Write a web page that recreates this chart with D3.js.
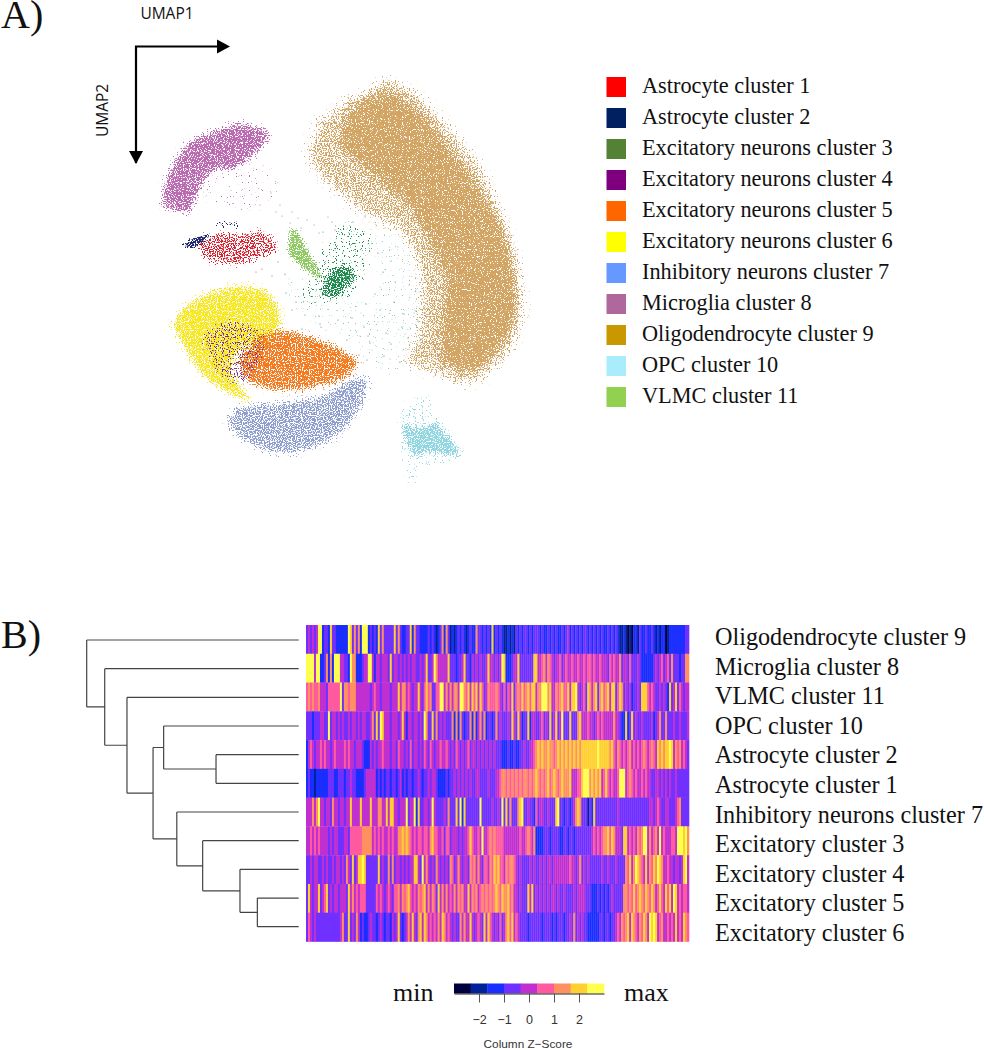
<!DOCTYPE html>
<html>

<head>
  <meta charset="UTF-8">
  <style>
    body { margin: 0; background: #fff; }
    svg { display: block; }
    text { fill: #111; }
    .serif { font-family: "Liberation Serif", serif; }
    .sans { font-family: "Open Sans", sans-serif; }
    .key { font-family: "Liberation Sans", sans-serif; fill: #333; }
  </style>
</head>

<body>
  <svg></svg>
  <script src="https://d3js.org/d3.v7.min.js"></script>

  <script>
    // legend of panel A
    const legend_labels = ["Astrocyte cluster 1", "Astrocyte cluster 2", "Excitatory neurons cluster 3",
      "Excitatory neurons cluster 4", "Excitatory neurons cluster 5", "Excitatory neurons cluster 6",
      "Inhibitory neurons cluster 7", "Microglia cluster 8", "Oligodendrocyte cluster 9",
      "OPC cluster 10", "VLMC cluster 11"];
    const legend_colors = ["#FF0000", "#002060", "#548235", "#7F007F", "#FF6600", "#FFFF00",
      "#6699FF", "#B0689C", "#C99700", "#A9EDFC", "#92D050"];

    // UMAP regions, outlines (umap1, umap2)
    const center_field = [[15.5, 20], [17, 24.5], [21, 26], [23, 29], [26, 30.5], [29, 29], [30, 25], [28.5, 20], [26, 16], [24, 14.5], [25, 19], [23.5, 23]];
    const oligo_all = [[26, 0.8], [29, 2.5], [32, 5.8], [35, 9.5], [37.3, 14.5], [38.7, 19], [39.4, 23.3], [38.5, 27.3], [36.2, 30.2], [33.7, 31.4], [30.5, 30.4], [27.5, 29.2], [28.8, 26], [28.9, 20], [27, 16.2], [23.2, 14.2], [19.8, 11.5], [17.7, 8.7], [19, 5], [22, 2.8], [24, 2]];
    const oligo_core = [[26, 2], [29, 4], [34, 10], [37, 15], [38.4, 19], [38.8, 23.3], [38, 27], [35.5, 29.6], [33.5, 30.4], [31, 29], [31, 25], [31.5, 21], [29.5, 16.5], [27, 13], [24, 10.5], [21, 7.5], [22, 3.5]];
    const micro_core = [[3.3, 13.7], [3.3, 12], [4.3, 9.3], [5.7, 7.3], [7.7, 6.3], [11, 5.3], [13.7, 6], [14, 6.7], [12.3, 8.7], [10.3, 10], [8.5, 10], [7.5, 11], [6.8, 12.5], [6, 14.3], [5.3, 14.3]];
    const micro_tail = [[8.5, 9.5], [12, 8.5], [14, 10], [15, 12.5], [13, 14], [10, 14], [7, 13], [7, 11]];
    const astro1_core = [[6.8, 17.3], [8.7, 16.3], [11, 16.3], [13, 16], [14.3, 16.7], [14.7, 18], [13.3, 18.7], [11, 19.5], [9, 19.3], [7.5, 19]];
    const astro2_core = [[5.3, 17.5], [6.3, 16.8], [8, 16.3], [7.8, 16.8], [6.7, 17.7], [5.5, 17.8]];
    const astro2_top = [[8.4, 15.3], [9.5, 15.1], [10.7, 15.2], [11, 15.8], [9.5, 15.7], [8.5, 15.6]];
    const vlmc_core = [[16, 16], [16.7, 16], [18, 18.3], [19.3, 20.7], [18.7, 20.8], [17, 19.7], [15.8, 18.3]];
    const exc3_wide = [[19.3, 18], [21.3, 15], [24.3, 17], [23.3, 20.7], [22, 22.7], [18.7, 23.7], [17, 22.3], [18.7, 20]];
    const exc3_core = [[20, 20], [22, 19.5], [22.5, 21], [20.7, 22.7], [19, 22.3]];
    const exc6_core = [[4.3, 25.7], [5.3, 23.7], [7.7, 22.3], [11, 21.5], [13.7, 22], [15, 24], [15, 26], [13, 27.5], [11, 28], [10, 30], [11.5, 32], [12, 33.3], [9.7, 32.3], [7.3, 30.7], [5.7, 28.3]];
    const exc5_core = [[10.8, 29], [12.8, 26.5], [15.7, 26], [19.7, 27.2], [22.8, 29], [21.5, 30.9], [17.3, 32], [14, 32], [11.5, 31]];
    const exc4_core = [[7.3, 26.5], [10, 25], [13.3, 26.3], [13, 29], [12, 31], [9.7, 31], [8, 29]];
    const exc6_over = [[7, 25], [10, 24], [13, 25], [13, 28], [9, 30.5]];
    const inhib_core = [[9.7, 35], [10.7, 33.7], [14, 33.3], [18.7, 32.7], [22, 31], [24, 30.7], [23, 34], [20.7, 36.7], [17.3, 38.2], [14, 38.3], [11.3, 37], [9.8, 35.7]];
    const opc_core = [[27.2, 35.3], [29, 35.8], [30.7, 35.3], [33, 38], [32.7, 38.7], [30, 38.3], [28.5, 38.7], [27.7, 37.5]];
    const opc_wide = [[27, 33.5], [30, 32.5], [31, 35], [33.2, 38.5], [29, 40], [28.7, 41.7], [27.8, 41], [27.2, 38]];

    const region_outlines = [center_field, center_field, oligo_all, oligo_core, micro_core, micro_tail, astro1_core, astro2_core, astro2_top, vlmc_core, exc3_wide, exc3_core, inhib_core, exc6_core, exc5_core, exc4_core, exc6_over, opc_wide, opc_core];
    const region_density = [0.09, 0.07, 0.74, 1, 1, 0.16, 0.74, 1, 0.5, 1, 0.32, 0.9, 0.85, 1, 1, 0.5, 0.22, 0.3, 0.95];
    const region_colors = ["#8FD6E1", "#2E8F66", "#D2A564", "#D2A564", "#BB6AB1", "#BB6AB1", "#D8202E", "#1F2A6E", "#1F2A6E", "#8FC964", "#1E8A4C", "#1E8A4C", "#8E9ECF", "#F8E820", "#F47B20", "#7A2A90", "#F8E820", "#8FD6E1", "#8FD6E1"];

    // stray cells between the clusters
    const stray_green = [[17.5, 24.5], [16.2, 24], [18.9, 24.6], [15.6, 22.3], [16.6, 23.2], [24.8, 18.3], [25.3, 20.2], [26.1, 19.1], [24.5, 22.4], [23.6, 23.4], [25, 24], [26.4, 23.2], [27.4, 24.4], [28.6, 24.1], [27.2, 25.7], [28.8, 25.1], [25.6, 26.3], [23.4, 25.7], [22.2, 24.8], [20.8, 25], [19, 25.4], [17.2, 25.9], [21.7, 27], [24, 27.3], [26.1, 27.4], [27.8, 26.8], [29.1, 26.9], [27, 29.2], [25.4, 28.6], [23.7, 29], [22.3, 15.2], [23.5, 14.6], [20.2, 15.2], [19.3, 16.2]];
    const stray_cyan = [[16, 21.5], [18, 26.8], [19.8, 27], [21, 26.3], [23, 26.6], [24.8, 25.2], [26.2, 24.9], [27.9, 23], [28.9, 22.2], [29.5, 24.3], [25, 21.7], [26.5, 21.2], [24.2, 28], [25.1, 29.8], [27.3, 28], [23.1, 24.3], [21.5, 28.6], [22.6, 29.8], [19.6, 26], [28.3, 27.8]];
    const stray_lilac = [[14.6, 14.2], [15.2, 14.6], [16.2, 14.2], [16.8, 14.8], [17.7, 15], [18.4, 15.5], [15, 13.5], [17.1, 15.8], [14.1, 12.3], [18.9, 16.3], [13, 13.5], [16, 15.3], [19.8, 14.7], [20.5, 16]];
    const stray_red = [[13.2, 19.9], [14.8, 19.2], [12.6, 20.2], [14.2, 20.6], [19.1, 25.7], [23.8, 26.6], [22.9, 28.5], [15.5, 20.4]];
    const stray_tan = [[27.5, 26.4], [28.4, 24.3], [29.2, 22.9], [27.4, 29], [26, 28.9], [25.8, 26.4], [27.9, 21.5], [26.8, 17.7], [25.5, 15.8], [23.8, 14]];

    // heatmap, panel B. Each digit is a colour key bin, 0 (lowest) to 8 (highest)
    const heat_rows = ["Oligodendrocyte cluster 9", "Microglia cluster 8", "VLMC cluster 11", "OPC cluster 10",
      "Astrocyte cluster 2", "Astrocyte cluster 1", "Inhibitory neurons cluster 7", "Excitatory cluster 3",
      "Excitatory cluster 4", "Excitatory cluster 5", "Excitatory cluster 6"];
    const heat_oligo = "3434348823 3273322222 2873636288 8232327363 3333736322 3372633222 2323212362 6312123232 1232263323 2327232321 1212132323 3232333232 2323232232 3423232323 3232323232 2323232112 1010221322 3223212122 0122222222 33";
    const heat_micro = "8888488223 6262888443 3286622234 4884244344 4373443434 3434433434 7334864444 4733323347 3324343433 4744343487 2223447333 3333774456 4654344534 5445445445 4554544544 4354544634 4353334322 2222343453 4536333233 66";
    const heat_vlmc = "5656556444 3555555836 6566644444 4434544344 4434447466 4543447435 7563355884 6464664886 5747574753 4655565435 3547356575 6757746688 8674465675 5747784345 3764673675 6747735763 4342334377 7545433434 3273473543 44";
    const heat_opc = "3332333443 3834434343 3434434344 3346373874 4434443474 2443443438 6337363434 3336262632 3362624636 2332363433 3437437423 3724433453 4373473483 3373336744 4544345454 4444644322 7237343343 3334234633 6333433433 34";
    const heat_astro2 = "2454344545 4434544445 4544344432 2243434454 4434435443 4353443435 4354344544 5434354343 4534434343 4343433322 2322322334 3344567676 6766567676 7676767677 7777778777 7767546545 4564545456 5456547676 7787465645 43";
    const heat_astro1 = "2322122222 2333223332 3343322223 4444423232 3323323423 2332334323 3434432222 3233434343 4343344333 3433344566 5656565656 6565676565 6756765676 6674445578 8867676745 7545445888 4565454454 5443344343 4343343333 33";
    const heat_inhib = "4446468443 4436443443 4474444744 4474446644 7477443444 8344827334 4348433334 3633373827 3333333833 3334334383 7363336783 3433253443 3433378332 3323467633 3132733333 3333334333 3333333333 3344345433 4433345633 33";
    const heat_exc3 = "4454545444 4343443334 4355555566 6664545454 4545446676 7654545545 5467554453 5534443434 4575445484 4565655554 4444444544 5654622223 3323333223 3233233333 3334545456 6757644437 7454546568 8464564845 4445548887 86";
    const heat_exc4 = "3343443343 4334344343 6437347787 3333337343 3636344343 4344774384 6434364343 4365346434 4365646435 5465767554 6566543433 3343433434 3443444444 4454434634 3433333343 3433343333 6574687654 7465768764 4544344347 84";
    const heat_exc5 = "3743447345 7343443444 3746454555 3333354543 4543556465 6754546567 4646537464 6454646564 4746564565 6565676576 6756443433 3747343434 3434434334 3333434444 3332223232 3234333336 6565756765 7657645754 7574874545 54";
    const heat_exc6 = "3543433333 3333333463 3734364232 2343323432 3324347323 4647436747 6454546476 4543433646 4474345437 4754343534 6757454333 3233333323 3332323332 3343634343 3222222332 3323345465 6747654657 6487874564 4545474547 65";
    const heat_values = [heat_oligo, heat_micro, heat_vlmc, heat_opc, heat_astro2, heat_astro1, heat_inhib, heat_exc3, heat_exc4, heat_exc5, heat_exc6];

    // colour key
    const key_colors = ["#00003C", "#002299", "#1A2EFF", "#7030FF", "#C030D0", "#FF5AA0", "#FF9060", "#FFD030", "#FFFF50"];
    const key_ticks = [-2, -1, 0, 1, 2];

    // dendrogram, merge heights in distance units
    const dendro_tree = { h: 10, children: [{ leaf: 0 }, { h: 9.15, children: [{ leaf: 1 }, { h: 8.1, children: [{ leaf: 2 }, { h: 6.87, children: [
      { h: 6.37, children: [{ leaf: 3 }, { h: 3.9, children: [{ leaf: 4 }, { leaf: 5 }] }] },
      { h: 5.75, children: [{ leaf: 6 }, { h: 4.53, children: [{ leaf: 7 }, { h: 2.77, children: [{ leaf: 8 }, { h: 1.95, children: [{ leaf: 9 }, { leaf: 10 }] }] }] }] }
    ] }] }] }] };

    let width = 984, height = 1050;
    let svg = d3.select("svg").attr("width", width).attr("height", height)
      .attr("viewBox", "0 0 " + width + " " + height);
    let defs = svg.append("defs");

    svg.append("text").attr("class", "serif").attr("x", 1).attr("y", 28).attr("font-size", 40).text("A)");
    svg.append("text").attr("class", "serif").attr("x", 1).attr("y", 648).attr("font-size", 40).text("B)");

    // ---- panel A ----
    let umap_x = d3.scaleLinear().domain([0, 40]).range([130, 530]);
    let umap_y = d3.scaleLinear().domain([0, 43]).range([70, 500]);

    // grainy fill so a region reads as a cloud of cells; fill-opacity sets how dense the grain is
    function grain_filter(id, seed, soft_edge) {
      let f = defs.append("filter").attr("id", id)
        .attr("x", "-25%").attr("y", "-25%").attr("width", "150%").attr("height", "150%")
        .attr("color-interpolation-filters", "sRGB");
      f.append("feGaussianBlur").attr("in", "SourceGraphic").attr("stdDeviation", soft_edge).attr("result", "soft");
      f.append("feTurbulence").attr("type", "fractalNoise").attr("baseFrequency", 0.85)
        .attr("numOctaves", 1).attr("seed", seed).attr("result", "noise");
      f.append("feColorMatrix").attr("in", "noise").attr("type", "matrix")
        .attr("values", "0 0 0 0 0  0 0 0 0 0  0 0 0 0 0  3 0 0 0 -1.2").attr("result", "grain");
      f.append("feColorMatrix").attr("in", "soft").attr("type", "matrix")
        .attr("values", "0 0 0 0 0  0 0 0 0 0  0 0 0 0 0  0 0 0 1 0").attr("result", "shape");
      f.append("feComposite").attr("in", "shape").attr("in2", "grain").attr("operator", "arithmetic")
        .attr("k1", 0).attr("k2", 1).attr("k3", 1).attr("k4", -1).attr("result", "sum");
      let steep = f.append("feComponentTransfer").attr("in", "sum").attr("result", "mask");
      steep.append("feFuncA").attr("type", "linear").attr("slope", 7).attr("intercept", 0);
      let solid = f.append("feComponentTransfer").attr("in", "soft").attr("result", "solid");
      solid.append("feFuncA").attr("type", "linear").attr("slope", 60).attr("intercept", 0);
      f.append("feComposite").attr("in", "solid").attr("in2", "mask").attr("operator", "in").attr("result", "out");
      f.append("feGaussianBlur").attr("in", "out").attr("stdDeviation", 0.42);
    }

    let outline = d3.line().x(d => umap_x(d[0])).y(d => umap_y(d[1]))
      .curve(d3.curveCardinalClosed.tension(0.4));

    region_outlines.forEach((pts, i) => {
      // bigger clouds have wider fuzzy edges
      let soft_edge = Math.min(5.5, 1.5 + 0.25 * Math.sqrt(Math.abs(d3.polygonArea(pts))));
      grain_filter("grain" + i, i + 2, soft_edge);
      svg.append("path").attr("d", outline(pts))
        .attr("fill", region_colors[i])
        .attr("fill-opacity", region_density[i])
        .attr("filter", "url(#grain" + i + ")");
    });

    [[stray_tan, "#D2A564"], [stray_cyan, "#8FD6E1"], [stray_green, "#2E8F66"], [stray_lilac, "#BB6AB1"], [stray_red, "#B5503F"]]
      .forEach(([pts, c]) => {
        svg.append("g").selectAll("circle").data(pts).enter().append("circle")
          .attr("cx", d => umap_x(d[0])).attr("cy", d => umap_y(d[1]))
          .attr("r", 0.6).attr("fill", c);
      });

    // arrows
    svg.append("path").attr("d", "M136 163V46.5H218").attr("fill", "none").attr("stroke", "#000").attr("stroke-width", 2.2);
    svg.append("path").attr("d", "M217 39.5L230 46.5L217 53.5Z").attr("fill", "#000");
    svg.append("path").attr("d", "M129 151L136 164L143 151Z").attr("fill", "#000");
    svg.append("text").attr("class", "sans").attr("x", 167).attr("y", 19).attr("text-anchor", "middle").attr("font-size", 15.5).text("UMAP1");
    svg.append("text").attr("class", "sans").attr("text-anchor", "middle").attr("font-size", 15.5)
      .attr("transform", "translate(108,110.5) rotate(-90)").text("UMAP2");

    // legend
    let legend_y = d3.scalePoint().domain(legend_labels).range([87, 397]);
    let legend = svg.append("g").selectAll("g").data(legend_labels).enter().append("g")
      .attr("transform", d => "translate(0," + legend_y(d) + ")");
    legend.append("rect").attr("x", 606.5).attr("y", -10).attr("width", 19.5).attr("height", 20)
      .attr("fill", (d, i) => legend_colors[i]);
    legend.append("text").attr("class", "serif").attr("x", 642).attr("y", 5.5).attr("font-size", 22.3).text(d => d);

    // ---- panel B ----
    let key_x = d3.scaleLinear().domain([-3, 3]).range([454, 604]);
    let key_color = d3.scaleQuantize().domain([-3, 3]).range(key_colors);
    let bin_mid = bin => key_x.domain()[0] + (bin + 0.5) * 6 / key_colors.length;

    let row_y = d3.scaleBand().domain(heat_rows).range([625, 941.5]);
    let column_count = heat_values[0].replace(/ /g, "").length;
    let col_x = d3.scaleBand().domain(d3.range(column_count)).range([306, 689]);

    defs.append("filter").attr("id", "soften").attr("color-interpolation-filters", "sRGB")
      .append("feGaussianBlur").attr("stdDeviation", "0.75 0.3");
    let heat = svg.append("g").attr("filter", "url(#soften)");
    heat_rows.forEach((name, r) => {
      let cells = heat_values[r].replace(/ /g, "").split("").map(Number);
      heat.append("g").selectAll("rect").data(cells).enter().append("rect")
        .attr("x", (d, i) => col_x(i)).attr("y", row_y(name))
        .attr("width", col_x.bandwidth() + 0.3).attr("height", row_y.bandwidth() + 0.3)
        .attr("fill", d => key_color(bin_mid(d)));
    });

    let label_y = d3.scalePoint().domain(heat_rows).range([637, 933]);
    svg.append("g").selectAll("text").data(heat_rows).enter().append("text")
      .attr("class", "serif").attr("x", 715).attr("y", d => label_y(d) + 8)
      .attr("font-size", 24.2).text(d => d);

    // dendrogram
    let leaf_y = d3.scalePoint().domain(d3.range(heat_rows.length)).range([640, 926.7]);
    let dendro_x = d3.scaleLinear().domain([0, 10]).range([298.7, 86.7]);
    let root = d3.hierarchy(dendro_tree);
    root.eachAfter(n => {
      n.py = n.children ? d3.mean(n.children, c => c.py) : leaf_y(n.data.leaf);
      n.px = dendro_x(n.children ? n.data.h : 0);
    });
    let dendro_path = d3.path();
    root.each(n => {
      if (!n.children) return;
      let ys = n.children.map(c => c.py);
      dendro_path.moveTo(n.px, ys[0]); dendro_path.lineTo(n.px, ys[1]);
      n.children.forEach(c => { dendro_path.moveTo(n.px, c.py); dendro_path.lineTo(c.px, c.py); });
    });
    svg.append("path").attr("d", dendro_path.toString()).attr("fill", "none")
      .attr("stroke", "#444").attr("stroke-width", 1.2);

    // colour key
    svg.append("g").selectAll("rect").data(key_colors).enter().append("rect")
      .attr("x", (d, i) => key_x(-3 + i * 6 / key_colors.length)).attr("y", 983.5)
      .attr("width", 150 / key_colors.length + 0.3).attr("height", 10)
      .attr("fill", d => d);
    svg.append("g").attr("class", "key_axis").attr("transform", "translate(0,993.5)")
      .call(d3.axisBottom(key_x).tickValues(key_ticks).tickSize(9).tickSizeOuter(0).tickPadding(13)
        .tickFormat(d => d < 0 ? "\u2212" + (-d) : d))
      .call(g => g.selectAll("text").attr("class", "key").attr("font-size", 12.5))
      .call(g => g.selectAll("line").attr("stroke", "#555"))
      .call(g => g.select(".domain").attr("stroke", "#222"));
    svg.append("text").attr("class", "key").attr("x", 528).attr("y", 1047.5).attr("text-anchor", "middle")
      .attr("font-size", 11.8).text("Column Z\u2212Score");
    svg.append("text").attr("class", "serif").attr("x", 393).attr("y", 1000.5).attr("font-size", 26).text("min");
    svg.append("text").attr("class", "serif").attr("x", 624).attr("y", 1000.5).attr("font-size", 26).text("max");
  </script>

</body>

</html>
